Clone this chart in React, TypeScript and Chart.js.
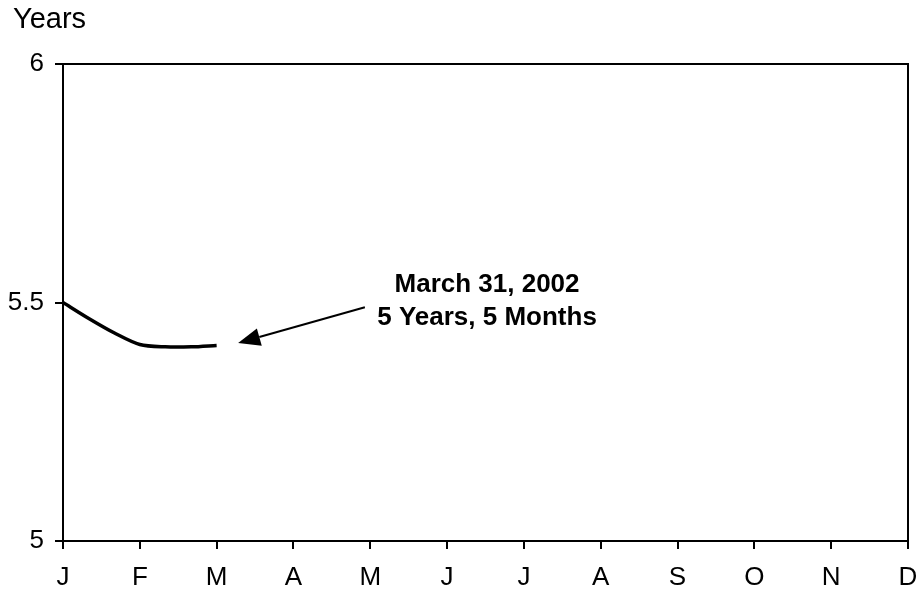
import React, { useEffect, useRef } from "react";
import { Chart, registerables } from "chart.js";

Chart.register(...registerables);

const monthLabels = ["J", "F", "M", "A", "M", "J", "J", "A", "S", "O", "N", "D"];
const monthPositions = [0, 0.33, 0.67, 1, 1.33, 1.67, 2];
const durationYears = [5.5, 5.467, 5.436, 5.412, 5.407, 5.407, 5.41];
const yTicks = [5, 5.5, 6];
const axisTitle = "Years";
const annotationLines = ["March 31, 2002", "5 Years, 5 Months"];
const arrowTip = { x: 2.28, y: 5.415 };
const arrowTail = { x: 3.93, y: 5.49 };
const annotationAnchor = { x: 5.52, y1: 5.537, y2: 5.467 };

const FONT = "'Liberation Sans', Arial, sans-serif";

const framePlugin = {
  id: "frameAndNotes",
  afterDraw(chart: any) {
    const { ctx, chartArea, scales } = chart;
    const xs = scales.x;
    const ys = scales.y;
    ctx.save();
    ctx.strokeStyle = "#000";
    ctx.lineWidth = 2;
    ctx.beginPath();
    ctx.moveTo(chartArea.left, chartArea.top);
    ctx.lineTo(chartArea.right, chartArea.top);
    ctx.lineTo(chartArea.right, chartArea.bottom);
    ctx.stroke();
    ctx.fillStyle = "#000";
    ctx.font = `29px ${FONT}`;
    ctx.textAlign = "left";
    ctx.textBaseline = "middle";
    ctx.fillText(axisTitle, chartArea.left - 50, chartArea.top - 44);
    ctx.font = `bold 26px ${FONT}`;
    ctx.textAlign = "center";
    const ax = xs.getPixelForValue(annotationAnchor.x);
    ctx.fillText(annotationLines[0], ax, ys.getPixelForValue(annotationAnchor.y1));
    ctx.fillText(annotationLines[1], ax, ys.getPixelForValue(annotationAnchor.y2));
    const tx = xs.getPixelForValue(arrowTip.x);
    const ty = ys.getPixelForValue(arrowTip.y);
    const sx = xs.getPixelForValue(arrowTail.x);
    const sy = ys.getPixelForValue(arrowTail.y);
    const ang = Math.atan2(ty - sy, tx - sx);
    const headLen = 22;
    const headHalf = 9;
    const bx = tx - headLen * Math.cos(ang);
    const by = ty - headLen * Math.sin(ang);
    ctx.lineWidth = 2;
    ctx.beginPath();
    ctx.moveTo(sx, sy);
    ctx.lineTo(bx, by);
    ctx.stroke();
    ctx.beginPath();
    ctx.moveTo(tx, ty);
    ctx.lineTo(bx + headHalf * Math.sin(ang), by - headHalf * Math.cos(ang));
    ctx.lineTo(bx - headHalf * Math.sin(ang), by + headHalf * Math.cos(ang));
    ctx.closePath();
    ctx.fill();
    ctx.restore();
  },
};

export default function App() {
  const ref = useRef<HTMLCanvasElement>(null);
  useEffect(() => {
    if (!ref.current) return;
    const chart = new Chart(ref.current, {
      type: "line",
      data: {
        datasets: [
          {
            data: monthPositions.map((m, i) => ({ x: m, y: durationYears[i] })),
            borderColor: "#000",
            borderWidth: 3.5,
            pointRadius: 0,
            tension: 0.3,
            fill: false,
          },
        ],
      },
      options: {
        responsive: false,
        animation: false,
        layout: { padding: { left: 0, right: 14, top: 64, bottom: 0 } },
        plugins: { legend: { display: false }, tooltip: { enabled: false }, title: { display: false } },
        scales: {
          x: {
            type: "linear",
            min: 0,
            max: 11,
            afterBuildTicks: (scale: any) => {
              scale.ticks = monthLabels.map((_, i) => ({ value: i }));
            },
            afterFit: (scale: any) => {
              scale.height = 55;
              scale.paddingLeft = 0;
              scale.paddingRight = 0;
            },
            ticks: {
              autoSkip: false,
              maxRotation: 0,
              color: "#000",
              padding: 13,
              font: { family: FONT, size: 26 },
              callback: (v: any) => monthLabels[Math.round(Number(v))] ?? "",
            },
            grid: { drawOnChartArea: false, tickLength: 8, color: "#000", lineWidth: 2 },
            border: { color: "#000", width: 2 },
          },
          y: {
            min: 5,
            max: 6,
            afterBuildTicks: (scale: any) => {
              scale.ticks = yTicks.map((v) => ({ value: v }));
            },
            afterFit: (scale: any) => {
              scale.width = 63;
              scale.paddingTop = 0;
              scale.paddingBottom = 0;
            },
            ticks: {
              color: "#000",
              padding: 11,
              font: { family: FONT, size: 26 },
              callback: (v: any) => String(v),
            },
            grid: { drawOnChartArea: false, tickLength: 8, color: "#000", lineWidth: 2 },
            border: { color: "#000", width: 2 },
          },
        },
      },
      plugins: [framePlugin],
    });
    return () => chart.destroy();
  }, []);
  return (
    <div style={{ position: "fixed", left: 0, top: 0, width: 922, height: 596, background: "#fff" }}>
      <canvas ref={ref} width={922} height={596} style={{ display: "block" }} />
    </div>
  );
}
